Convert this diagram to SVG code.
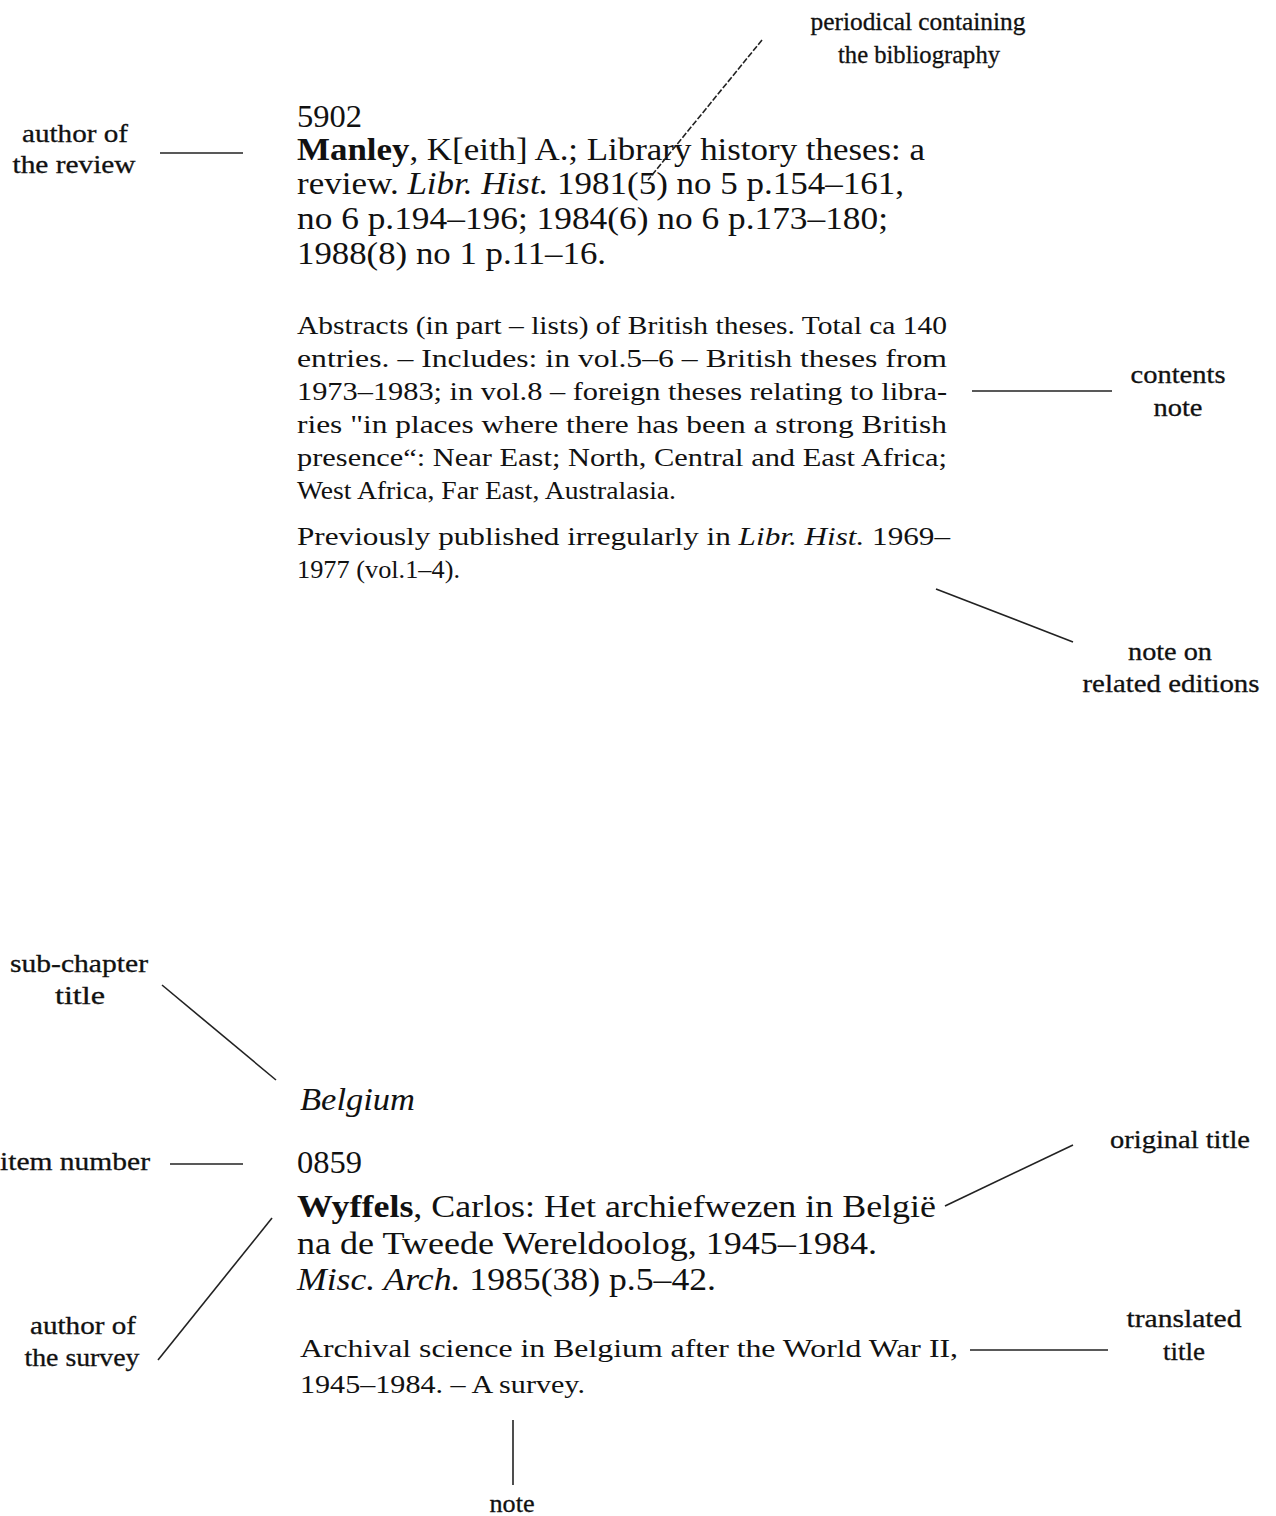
<svg xmlns="http://www.w3.org/2000/svg" width="1276" height="1516" viewBox="0 0 1276 1516">
<style>
text{font-family:"Liberation Serif","Times New Roman",serif;fill:#111}
.lab{font-size:25px;text-anchor:middle;stroke:#111;stroke-width:0.3}
.main{font-size:32px}
.abs{font-size:26px}
.c line{stroke:#222;stroke-width:1.6;fill:none}
</style>
<rect width="1276" height="1516" fill="#fff"/>
<g id="entry1">
<text class="main" x="297" y="127" textLength="65" lengthAdjust="spacingAndGlyphs">5902</text>
<text class="main" x="297" y="160" textLength="628" lengthAdjust="spacingAndGlyphs"><tspan font-weight="bold">Manley</tspan>, K[eith] A.; Library history theses: a</text>
<text class="main" x="297" y="194" textLength="607" lengthAdjust="spacingAndGlyphs">review. <tspan font-style="italic">Libr. Hist.</tspan> 1981(5) no 5 p.154–161,</text>
<text class="main" x="297" y="229" textLength="591" lengthAdjust="spacingAndGlyphs">no 6 p.194–196; 1984(6) no 6 p.173–180;</text>
<text class="main" x="297" y="264" textLength="309" lengthAdjust="spacingAndGlyphs">1988(8) no 1 p.11–16.</text>
<text class="abs" x="297" y="334" textLength="650" lengthAdjust="spacingAndGlyphs">Abstracts (in part – lists) of British theses. Total ca 140</text>
<text class="abs" x="297" y="367" textLength="650" lengthAdjust="spacingAndGlyphs">entries. – Includes: in vol.5–6 – British theses from</text>
<text class="abs" x="297" y="400" textLength="650" lengthAdjust="spacingAndGlyphs">1973–1983; in vol.8 – foreign theses relating to libra-</text>
<text class="abs" x="297" y="433" textLength="650" lengthAdjust="spacingAndGlyphs">ries "in places where there has been a strong British</text>
<text class="abs" x="297" y="466" textLength="650" lengthAdjust="spacingAndGlyphs">presence“: Near East; North, Central and East Africa;</text>
<text class="abs" x="297" y="499" textLength="379" lengthAdjust="spacingAndGlyphs">West Africa, Far East, Australasia.</text>
<text class="abs" x="297" y="545" textLength="653" lengthAdjust="spacingAndGlyphs">Previously published irregularly in <tspan font-style="italic">Libr. Hist.</tspan> 1969–</text>
<text class="abs" x="297" y="578" textLength="163" lengthAdjust="spacingAndGlyphs">1977 (vol.1–4).</text>
</g>
<g id="entry2">
<text class="main" x="300" y="1110" font-style="italic" textLength="115" lengthAdjust="spacingAndGlyphs">Belgium</text>
<text class="main" x="297" y="1173" textLength="65" lengthAdjust="spacingAndGlyphs">0859</text>
<text class="main" x="297" y="1217" textLength="639" lengthAdjust="spacingAndGlyphs"><tspan font-weight="bold">Wyffels</tspan>, Carlos: Het archiefwezen in België</text>
<text class="main" x="297" y="1254" textLength="580" lengthAdjust="spacingAndGlyphs">na de Tweede Wereldoolog, 1945–1984.</text>
<text class="main" x="297" y="1290" textLength="419" lengthAdjust="spacingAndGlyphs"><tspan font-style="italic">Misc. Arch.</tspan> 1985(38) p.5–42.</text>
<text class="abs" x="300" y="1357" textLength="658" lengthAdjust="spacingAndGlyphs">Archival science in Belgium after the World War II,</text>
<text class="abs" x="300" y="1393" textLength="285" lengthAdjust="spacingAndGlyphs">1945–1984. – A survey.</text>
</g>
<g id="label-periodical"><text class="lab" x="918" y="30" textLength="215" lengthAdjust="spacingAndGlyphs">periodical containing</text><text class="lab" x="919" y="63" textLength="162" lengthAdjust="spacingAndGlyphs">the bibliography</text></g>
<g id="label-author-review"><text class="lab" x="75" y="142" textLength="106" lengthAdjust="spacingAndGlyphs">author of</text><text class="lab" x="74" y="173" textLength="123" lengthAdjust="spacingAndGlyphs">the review</text></g>
<g id="label-contents"><text class="lab" x="1178" y="383" textLength="95" lengthAdjust="spacingAndGlyphs">contents</text><text class="lab" x="1178" y="416" textLength="49" lengthAdjust="spacingAndGlyphs">note</text></g>
<g id="label-related"><text class="lab" x="1170" y="660" textLength="84" lengthAdjust="spacingAndGlyphs">note on</text><text class="lab" x="1171" y="692" textLength="177" lengthAdjust="spacingAndGlyphs">related editions</text></g>
<g id="label-subchapter"><text class="lab" x="79" y="972" textLength="138" lengthAdjust="spacingAndGlyphs">sub-chapter</text><text class="lab" x="80" y="1004" textLength="50" lengthAdjust="spacingAndGlyphs">title</text></g>
<g id="label-item"><text class="lab" x="75" y="1170" textLength="150" lengthAdjust="spacingAndGlyphs">item number</text></g>
<g id="label-original"><text class="lab" x="1180" y="1148" textLength="140" lengthAdjust="spacingAndGlyphs">original title</text></g>
<g id="label-author-survey"><text class="lab" x="83" y="1334" textLength="106" lengthAdjust="spacingAndGlyphs">author of</text><text class="lab" x="82" y="1366" textLength="115" lengthAdjust="spacingAndGlyphs">the survey</text></g>
<g id="label-translated"><text class="lab" x="1184" y="1327" textLength="115" lengthAdjust="spacingAndGlyphs">translated</text><text class="lab" x="1184" y="1360" textLength="42" lengthAdjust="spacingAndGlyphs">title</text></g>
<g id="label-note"><text class="lab" x="512" y="1512" textLength="45" lengthAdjust="spacingAndGlyphs">note</text></g>
<g class="c" id="connectors">
<line x1="762" y1="40" x2="648" y2="180" stroke-dasharray="6 2"/>
<line x1="160" y1="153" x2="243" y2="153"/>
<line x1="972" y1="391" x2="1112" y2="391"/>
<line x1="936" y1="589" x2="1073" y2="642"/>
<line x1="162" y1="985" x2="276" y2="1080"/>
<line x1="170" y1="1164" x2="243" y2="1164"/>
<line x1="1073" y1="1145" x2="945" y2="1206"/>
<line x1="158" y1="1360" x2="272" y2="1218"/>
<line x1="970" y1="1350" x2="1108" y2="1350"/>
<line x1="513" y1="1420" x2="513" y2="1485"/>
</g>
</svg>
